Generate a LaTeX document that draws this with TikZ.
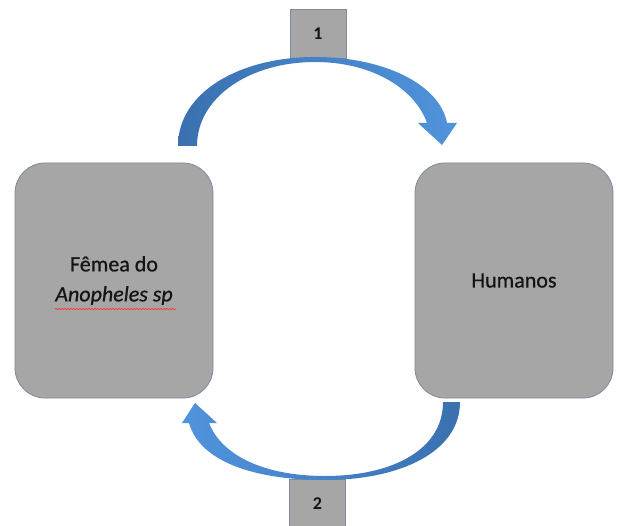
\documentclass[tikz,border=0pt]{standalone}
\usepackage{fontspec}
\setmainfont{Carlito}
\newfontfamily\boxfont[FakeBold=0.7]{Carlito}
\usetikzlibrary{decorations.pathmorphing}
\definecolor{boxgray}{RGB}{166,166,166}
\definecolor{boxline}{RGB}{125,138,160}
\definecolor{arrdark}{RGB}{58,112,176}
\definecolor{arrlight}{RGB}{80,148,220}
\definecolor{txt}{RGB}{20,20,20}
\tikzset{
  bigbox/.style={draw=boxline, line width=0.8pt, fill=boxgray, rounded corners=30pt,
    minimum width=198pt, minimum height=235pt, inner sep=0pt, align=center,
    text=txt, font=\boxfont\fontsize{22}{26}\selectfont},
  numbox/.style={draw=boxline, line width=0.8pt, fill=boxgray,
    minimum width=56pt, minimum height=49pt, inner sep=0pt,
    text=txt, font=\fontsize{18}{20}\selectfont\bfseries},
}
\begin{document}
\begin{tikzpicture}[x=1pt,y=-1pt]
\useasboundingbox (0,0) rectangle (620,526);
\clip (0,0) rectangle (620,526);
\fill[white] (0,0) rectangle (620,526);
% main boxes
\node[bigbox] (femea) at (114,280.5) {Fêmea do\\[4pt]\itshape Anopheles sp};
\node[bigbox] (humanos) at (514,280.5) {Humanos};
% spell-check underline
\draw[red!80!white, line width=0.7pt, decoration={snake, amplitude=0.6pt, segment length=3pt}, decorate]
  (55,309) -- (176,309);
% number boxes
\node[numbox] (n1) at (318,33.5) {1};
\node[numbox] (n2) at (317.5,503.5) {2};
% top curved arrow (from femea to humanos)
\shade[left color=arrdark, right color=arrlight]
  (178,146) .. controls (178,92) and (240,57) .. (315,57)
  .. controls (385,57) and (440,85) .. (447,123)
  -- (457,123) -- (442,145) -- (418,123) -- (427,123)
  .. controls (416,91) and (375,62) .. (315,62)
  .. controls (250,62) and (197,97) .. (197,146) -- cycle;
% bottom curved arrow (from humanos to femea)
\shade[left color=arrlight, right color=arrdark]
  (460,402) .. controls (460,452) and (400,480) .. (325,480)
  .. controls (255,480) and (200,462) .. (189,423)
  -- (182,423) -- (195,403) -- (217,423) -- (209,423)
  .. controls (222,456) and (265,476) .. (325,476)
  .. controls (392,476) and (443,450) .. (443,402) -- cycle;
\end{tikzpicture}
\end{document}
